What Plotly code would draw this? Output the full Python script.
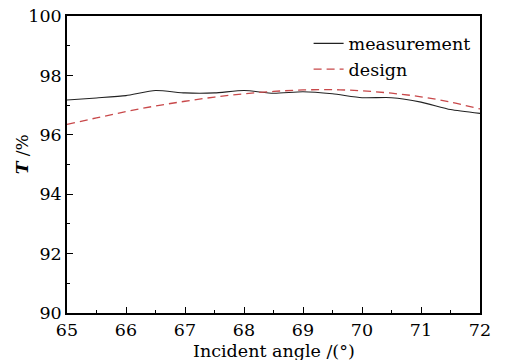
import plotly.graph_objects as go

angle = [65, 65.5, 66, 66.5, 67, 67.5, 68, 68.5, 69, 69.5, 70, 70.5, 71, 71.5, 72]
measurement = [97.17, 97.24, 97.32, 97.49, 97.41, 97.41, 97.49, 97.40, 97.45, 97.38, 97.25, 97.25, 97.10, 96.85, 96.72]
design = [96.35, 96.57, 96.78, 96.97, 97.13, 97.27, 97.38, 97.46, 97.51, 97.52, 97.48, 97.40, 97.28, 97.10, 96.87]

x_ticks = [65, 66, 67, 68, 69, 70, 71, 72]
y_ticks = [90, 92, 94, 96, 98, 100]

FONT = "DejaVu Serif"

fig = go.Figure()
fig.add_trace(go.Scatter(x=angle, y=measurement, mode="lines", name="measurement",
                         line=dict(color="#222222", width=1.1, shape="spline", smoothing=0.6)))
fig.add_trace(go.Scatter(x=angle, y=design, mode="lines", name="design",
                         line=dict(color="#c8484a", width=1.3, dash="8px,5px", shape="spline")))

axis_common = dict(
    showgrid=False, zeroline=False, showline=True, linecolor="black", linewidth=1.5,
    mirror=True, ticks="inside", ticklen=6, tickwidth=1.3, tickcolor="black",
    tickfont=dict(family=FONT, size=17.5, color="black"), automargin=False,
)

fig.update_xaxes(range=[65, 72], tickvals=x_ticks, ticktext=[str(v) for v in x_ticks],
                 minor=dict(ticks="inside", ticklen=3, tickwidth=1.2, tickcolor="black", dtick=0.5),
                 ticklabelstandoff=0, **axis_common)
fig.update_yaxes(range=[90, 100], tickvals=y_ticks, ticktext=[str(v) for v in y_ticks],
                 minor=dict(ticks="inside", ticklen=3, tickwidth=1.2, tickcolor="black", dtick=1),
                 **axis_common)

fig.add_annotation(text="Incident angle /(°)", xref="paper", yref="paper", x=0.5, y=-0.128,
                   xanchor="center", yanchor="middle", showarrow=False,
                   font=dict(family=FONT, size=17.5, color="black"))
fig.add_annotation(text="<b><i>T</i></b> /%", xref="paper", yref="paper", x=-0.107, y=0.534,
                   xanchor="center", yanchor="middle", textangle=-90, showarrow=False,
                   font=dict(family=FONT, size=17, color="black"))

fig.update_layout(
    width=506, height=360,
    margin=dict(l=67, r=26, t=16, b=47),
    paper_bgcolor="white", plot_bgcolor="white",
    showlegend=True,
    legend=dict(x=0.585, y=0.968, xanchor="left", yanchor="top", bgcolor="rgba(0,0,0,0)",
                font=dict(family=FONT, size=17.5, color="black"), tracegroupgap=0,
                itemwidth=30),
)

fig.write_html("out.html")
